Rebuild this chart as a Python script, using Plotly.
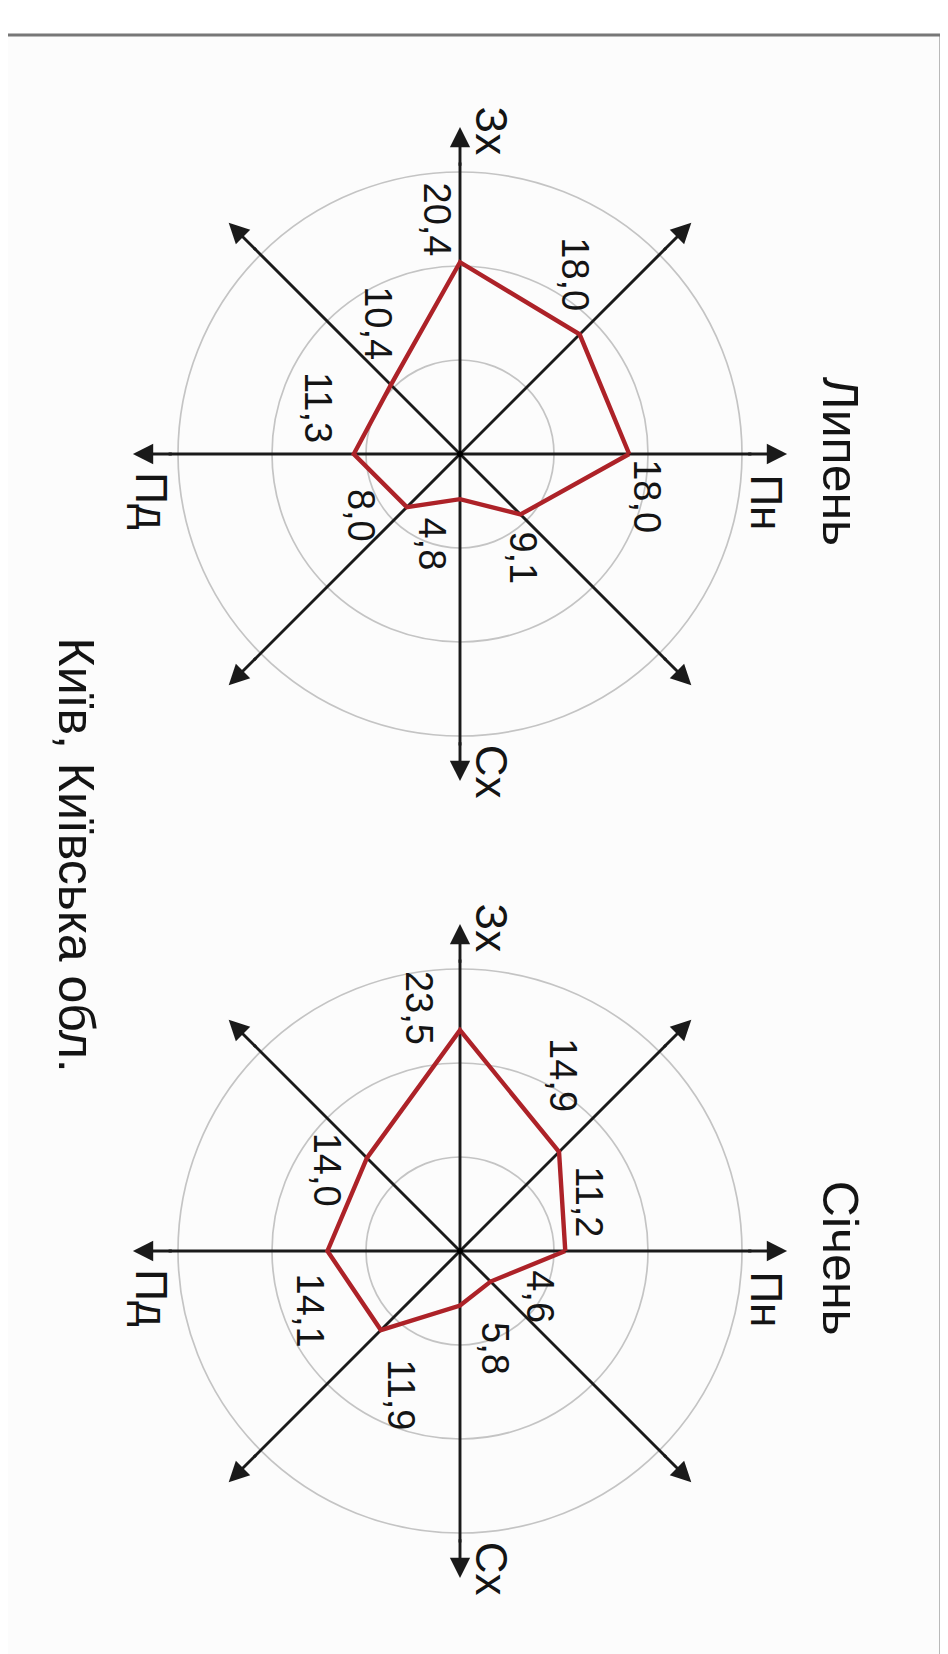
import math
import plotly.graph_objects as go

# ---------------- data ----------------
directions = ["Пн", "ПнСх", "Сх", "ПдСх", "Пд", "ПдЗх", "Зх", "ПнЗх"]
july_values = [18.0, 9.1, 4.8, 8.0, 11.3, 10.4, 20.4, 18.0]      # Липень
january_values = [11.2, 4.6, 5.8, 11.9, 14.1, 14.0, 23.5, 14.9]  # Січень
axis_names = ["Пн", "Сх", "Пд", "Зх"]
month_names = ["Липень", "Січень"]
title_text = "Київ, Київська обл."
ring_values = [10, 20, 30]

# ---------------- layout constants ----------------
W, H = 948, 1654
PX = 9.4                       # pixels per unit
CX = 452                       # centre x (px)
CY_TOP, CY_BOT = 446, 1243     # centre y (px)
HALF = H / 2

# screen angle (deg, math convention) of each compass direction (chart is rotated: N -> right)
dir_angle = {"Пн": 0, "ПнСх": -45, "Сх": -90, "ПдСх": -135,
             "Пд": 180, "ПдЗх": 135, "Зх": 90, "ПнЗх": 45}

# value-label offsets (units) relative to each polygon vertex
offsets_july = {"Пн": (1.9, -4.5), "ПнСх": (0.3, -4.6), "Сх": (-3.0, -4.8), "ПдСх": (-4.8, -0.9),
                "Пд": (-3.8, 5.0), "ПдЗх": (-1.3, 6.6), "Зх": (-2.4, 4.5), "ПнЗх": (-0.5, 6.4)}
offsets_jan = {"Пн": (2.5, 5.2), "ПнСх": (5.3, -1.6), "Сх": (3.8, -4.6), "ПдСх": (2.1, -6.9),
               "Пд": (-1.9, -6.3), "ПдЗх": (-4.3, -1.2), "Зх": (-4.3, 2.4), "ПнЗх": (0.4, 8.2)}
axis_label_pos = {"Пн": (32.6, -5.2), "Сх": (3.3, -33.8), "Пд": (-32.8, -5.0), "Зх": (3.3, 34.4)}
month_pos = (40.5, -0.8)

R_TIP = 34.8
R_HEAD_BACK = 31.0

FONT = "Liberation Sans, Arial, sans-serif"
TXT = "#141414"
RED = "#ad2228"
AX = "#1a1a1a"
RING = "#c4c4c4"

fig = go.Figure()
annotations = []
shapes = []

charts = [
    dict(values=july_values, offsets=offsets_july, month=month_names[0], xa="x", ya="y"),
    dict(values=january_values, offsets=offsets_jan, month=month_names[1], xa="x2", ya="y2"),
]

for ch in charts:
    xa, ya = ch["xa"], ch["ya"]
    # rings
    for r in ring_values:
        shapes.append(dict(type="circle", xref=xa, yref=ya, x0=-r, x1=r, y0=-r, y1=r,
                           line=dict(color=RING, width=1.7), layer="below"))
    # axis lines
    lx, ly = [], []
    for name in directions[:4]:
        a = math.radians(dir_angle[name])
        lx += [R_HEAD_BACK * math.cos(a), -R_HEAD_BACK * math.cos(a), None]
        ly += [R_HEAD_BACK * math.sin(a), -R_HEAD_BACK * math.sin(a), None]
    fig.add_trace(go.Scatter(x=lx, y=ly, mode="lines", line=dict(color=AX, width=2.9),
                             xaxis=xa, yaxis=ya, hoverinfo="skip", showlegend=False))
    # arrowheads
    for name in directions:
        a = math.radians(dir_angle[name])
        annotations.append(dict(x=R_TIP * math.cos(a), y=R_TIP * math.sin(a),
                                ax=(R_HEAD_BACK - 0.5) * math.cos(a),
                                ay=(R_HEAD_BACK - 0.5) * math.sin(a),
                                xref=xa, yref=ya, axref=xa, ayref=ya, text="",
                                showarrow=True, arrowhead=2, arrowsize=1.4, arrowwidth=2.9,
                                arrowcolor=AX, standoff=0))
    # polygon
    px_, py_ = [], []
    for name, v in zip(directions, ch["values"]):
        a = math.radians(dir_angle[name])
        px_.append(v * math.cos(a))
        py_.append(v * math.sin(a))
    px_.append(px_[0]); py_.append(py_[0])
    fig.add_trace(go.Scatter(x=px_, y=py_, mode="lines", line=dict(color=RED, width=4.4),
                             xaxis=xa, yaxis=ya, hoverinfo="skip", showlegend=False))
    fig.add_trace(go.Scatter(x=[0], y=[0], mode="markers", marker=dict(color="#000", size=6),
                             xaxis=xa, yaxis=ya, hoverinfo="skip", showlegend=False))
    # value labels
    for name, v in zip(directions, ch["values"]):
        a = math.radians(dir_angle[name])
        ox, oy = ch["offsets"][name]
        annotations.append(dict(x=v * math.cos(a) + ox, y=v * math.sin(a) + oy, xref=xa, yref=ya,
                                text=f"{v:.1f}".replace(".", ","), showarrow=False, textangle=90,
                                font=dict(family=FONT, size=38, color=TXT)))
    # direction names
    for name in axis_names:
        x, y = axis_label_pos[name]
        annotations.append(dict(x=x, y=y, xref=xa, yref=ya, text=name, showarrow=False, textangle=90,
                                font=dict(family=FONT, size=44, color=TXT)))
    # month
    annotations.append(dict(x=month_pos[0], y=month_pos[1], xref=xa, yref=ya, text=ch["month"],
                            showarrow=False, textangle=90, font=dict(family=FONT, size=50, color=TXT)))

# title
annotations.append(dict(x=68 / W, y=1 - 627 / H, xref="paper", yref="paper", text=title_text,
                        showarrow=False, textangle=90, xanchor="center", yanchor="top",
                        font=dict(family=FONT, size=50, color=TXT)))

# frame
FRAME_TOP = 27
FRAME_RIGHT = 933
shapes.insert(0, dict(type="rect", xref="paper", yref="paper", x0=0, x1=FRAME_RIGHT / W, y0=0,
                      y1=1 - FRAME_TOP / H, fillcolor="#fcfcfc", line=dict(width=0), layer="below"))
shapes.append(dict(type="line", xref="paper", yref="paper", x0=0, x1=FRAME_RIGHT / W,
                   y0=1 - FRAME_TOP / H, y1=1 - FRAME_TOP / H, line=dict(color="#777777", width=3)))
shapes.append(dict(type="line", xref="paper", yref="paper", x0=FRAME_RIGHT / W, x1=FRAME_RIGHT / W,
                   y0=0, y1=1 - FRAME_TOP / H, line=dict(color="#777777", width=3)))

xrange_ = [-CX / PX, (W - CX) / PX]
ax_common = dict(visible=False, showgrid=False, zeroline=False, fixedrange=True)
fig.update_layout(
    width=W, height=H, margin=dict(l=0, r=0, t=0, b=0),
    paper_bgcolor="white", plot_bgcolor="rgba(0,0,0,0)",
    xaxis=dict(domain=[0, 1], range=xrange_, anchor="y", **ax_common),
    yaxis=dict(domain=[0.5, 1.0], range=[(CY_TOP - HALF) / PX, CY_TOP / PX], anchor="x", **ax_common),
    xaxis2=dict(domain=[0, 1], range=xrange_, anchor="y2", **ax_common),
    yaxis2=dict(domain=[0.0, 0.5], range=[(CY_BOT - 2 * HALF) / PX, (CY_BOT - HALF) / PX],
                anchor="x2", **ax_common),
    annotations=annotations, shapes=shapes, showlegend=False,
)

fig.write_html("out.html")
